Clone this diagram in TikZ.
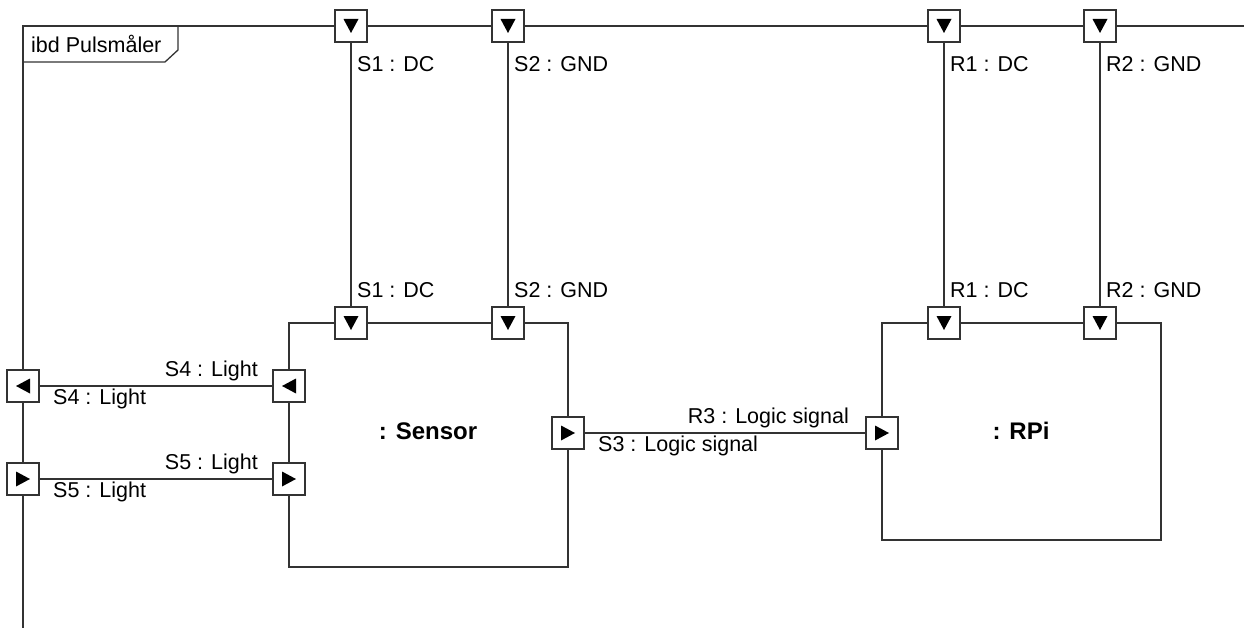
\documentclass[tikz,border=0pt]{standalone}
\usepackage{fontspec}
\setmainfont{Liberation Sans}
\begin{document}
\begin{tikzpicture}[x=1pt,y=-1pt,
  ln/.style={line width=1.3pt, draw=black!80},
  portbox/.style={draw=black!80, line width=1.3pt, fill=white, minimum size=32pt, inner sep=0pt},
  pdown/.style={portbox, path picture={\fill[black] ([shift={(-7.5pt,7pt)}]path picture bounding box.center) -- ++(15pt,0pt) -- ++(-7.5pt,-14pt) -- cycle;}},
  pleft/.style={portbox, path picture={\fill[black] ([shift={(7pt,7.5pt)}]path picture bounding box.center) -- ++(0pt,-15pt) -- ++(-14pt,7.5pt) -- cycle;}},
  pright/.style={portbox, path picture={\fill[black] ([shift={(-7pt,7.5pt)}]path picture bounding box.center) -- ++(0pt,-15pt) -- ++(14pt,7.5pt) -- cycle;}},
  block/.style={draw=black!80, line width=1.3pt, inner sep=0pt},
  lbl/.style={font=\fontsize{21.5}{25}\selectfont, inner sep=0pt},
  blbl/.style={font=\fontsize{24}{28}\selectfont\bfseries, inner sep=0pt},
]
\useasboundingbox (0,0) rectangle (1244,628);
% frame
\coordinate (fTL) at (23,26);
\coordinate (fTR) at (1244,26);
\coordinate (fBL) at (23,628);
\draw[ln] (fBL) -- (fTL) -- (fTR);
\coordinate (hA) at (178,26);
\coordinate (hB) at (178,50);
\coordinate (hC) at (165,62);
\coordinate (hD) at (23,62);
\draw[ln] (hA) -- (hB) -- (hC) -- (hD);
\node[lbl, anchor=west] (title) at (31,44) {ibd Pulsmåler};

% blocks
\node[block, minimum width=279pt, minimum height=244pt] (sensor) at (428.5,445) {};
\node[block, minimum width=279pt, minimum height=217pt] (rpi) at (1021.5,431.5) {};
\node[blbl] (sensorlbl) at (428,431) {: Sensor};
\node[blbl] (rpilbl) at (1021,431) {: RPi};

% connectors (drawn before ports)
\coordinate (c1) at (351,26);
\coordinate (c2) at (508,26);
\coordinate (c3) at (944,26);
\coordinate (c4) at (1100,26);
\coordinate (d1) at (351,323);
\coordinate (d2) at (508,323);
\coordinate (d3) at (944,323);
\coordinate (d4) at (1100,323);
\draw[ln] (c1) -- (d1);
\draw[ln] (c2) -- (d2);
\draw[ln] (c3) -- (d3);
\draw[ln] (c4) -- (d4);

% ports on frame top
\node[pdown] (tS1) at (c1) {};
\node[pdown] (tS2) at (c2) {};
\node[pdown] (tR1) at (c3) {};
\node[pdown] (tR2) at (c4) {};
% ports on block tops
\node[pdown] (bS1) at (d1) {};
\node[pdown] (bS2) at (d2) {};
\node[pdown] (bR1) at (d3) {};
\node[pdown] (bR2) at (d4) {};
% frame left ports
\node[pleft] (fS4) at (23,386) {};
\node[pright] (fS5) at (23,479) {};
% sensor left ports
\node[pleft] (sS4) at (289,386) {};
\node[pright] (sS5) at (289,479) {};
% sensor right / rpi left
\node[pright] (sS3) at (568,433) {};
\node[pright] (rR3) at (882,433) {};

\draw[ln] (fS4) -- (sS4);
\draw[ln] (fS5) -- (sS5);
\draw[ln] (sS3) -- (rR3);

% labels
\node[lbl, anchor=west] (l1) at (357,64) {S1 : DC};
\node[lbl, anchor=west] (l2) at (514,64) {S2 : GND};
\node[lbl, anchor=west] (l3) at (950,64) {R1 : DC};
\node[lbl, anchor=west] (l4) at (1106,64) {R2 : GND};
\node[lbl, anchor=west] (l5) at (357,290) {S1 : DC};
\node[lbl, anchor=west] (l6) at (514,290) {S2 : GND};
\node[lbl, anchor=west] (l7) at (950,290) {R1 : DC};
\node[lbl, anchor=west] (l8) at (1106,290) {R2 : GND};
\node[lbl, anchor=east] (l9) at (258,371) {S4 : Light};
\node[lbl, anchor=west] (l10) at (53,399) {S4 : Light};
\node[lbl, anchor=east] (l11) at (258,464) {S5 : Light};
\node[lbl, anchor=west] (l12) at (53,492) {S5 : Light};
\node[lbl, anchor=east] (l13) at (849,418) {R3 : Logic signal};
\node[lbl, anchor=west] (l14) at (598,446) {S3 : Logic signal};
\end{tikzpicture}
\end{document}
